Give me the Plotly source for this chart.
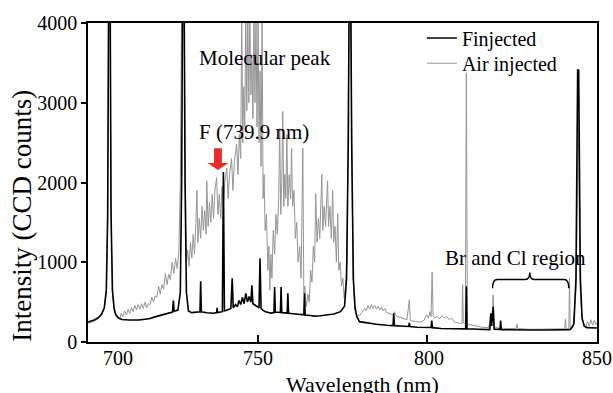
import plotly.graph_objects as go

# ---------------- data ----------------
f_wl = [700.0, 701.0, 702.0, 703.0, 704.0, 704.8, 705.4, 705.8, 706.1, 706.5,
        706.8, 707.2, 707.7, 708.2, 709.0, 710.0, 712.0, 715.0, 718.0, 720.0,
        722.0, 724.0, 724.9, 725.15, 725.4, 726.5, 727.2, 727.6, 727.9, 728.3,
        728.6, 729.0, 729.6, 730.5, 732.0, 733.0, 733.2, 733.4, 735.0, 737.0,
        737.9, 738.05, 738.2, 739.6, 739.9, 740.2, 741.0, 742.1, 742.5, 742.8,
        743.5, 744.0, 744.5, 745.0, 745.5, 746.0, 746.5, 747.0, 747.5, 748.0,
        748.3, 748.6, 749.5, 750.4, 750.7, 751.0, 751.5, 752.5, 754.0, 754.8,
        755.0, 755.2, 756.7, 756.9, 757.1, 758.7, 758.9, 759.1, 760.5, 762.0,
        763.6, 763.8, 764.0, 765.5, 766.7, 768.5, 770.6, 772.5, 774.4, 775.6,
        776.2, 776.7, 777.0, 777.4, 777.7, 778.2, 778.7, 779.2, 780.0, 782.0,
        785.0, 788.0, 789.9, 790.1, 790.3, 792.0, 794.5, 794.7, 794.9, 797.0,
        800.0, 801.1, 801.3, 801.5, 804.0, 807.0, 810.0, 811.3, 811.5, 811.7,
        815.0, 818.4, 818.7, 818.95, 819.4, 819.7, 821.4, 821.6, 821.8, 825.0,
        830.0, 835.0, 840.0, 842.0, 842.7, 843.2, 843.8, 844.3, 844.6, 845.1,
        845.6, 846.2, 847.0, 848.0, 849.0, 850.0]
f_counts = [250, 262, 280, 305, 350, 430, 650, 1600, 4600, 4600,
            1600, 650, 420, 340, 300, 282, 275, 275, 292, 318,
            340, 358, 375, 520, 385, 400, 620, 2000, 4600, 4600,
            2000, 620, 390, 368, 372, 380, 760, 378, 366, 360,
            368, 430, 368, 380, 2130, 390, 400, 420, 800, 430,
            470, 440, 520, 470, 560, 480, 610, 500, 570, 500,
            710, 480, 455, 430, 1050, 420, 400, 375, 362, 370,
            690, 375, 370, 690, 368, 362, 610, 360, 355, 345,
            340, 610, 338, 332, 325, 330, 340, 350, 380, 450,
            800, 2500, 4600, 4600, 2500, 800, 430, 320, 255, 238,
            222, 210, 205, 360, 205, 200, 195, 240, 195, 185,
            180, 182, 270, 180, 170, 165, 160, 165, 700, 165,
            160, 155, 360, 200, 440, 160, 158, 270, 155, 150,
            150, 150, 150, 155, 185, 230, 800, 3410, 3410, 800,
            300, 200, 180, 178, 175, 175]

air_wl = [700.0, 701.5, 703.0, 704.0, 704.8, 705.4, 705.8, 706.15, 706.45, 706.8,
          707.2, 707.7, 708.5, 709.3, 709.8, 710.3, 710.8, 711.3, 711.8, 712.3,
          712.8, 713.3, 713.8, 714.3, 714.8, 715.3, 715.8, 716.3, 716.8, 717.3,
          717.8, 718.3, 718.8, 719.3, 719.8, 720.3, 720.8, 721.3, 721.8, 722.3,
          722.8, 723.3, 723.8, 724.3, 724.8, 725.3, 725.8, 726.3, 726.8, 727.2,
          727.65, 728.25, 728.7, 729.0, 729.4, 729.8, 730.2, 730.6, 731.0, 731.4,
          731.8, 732.1, 732.4, 732.8, 733.2, 733.6, 734.0, 734.4, 734.8, 735.0,
          735.4, 735.8, 736.2, 736.6, 737.0, 737.4, 737.9, 738.3, 738.7, 739.1,
          739.5, 739.9, 740.3, 740.9, 741.3, 741.7, 742.3, 742.7, 743.1, 743.8,
          744.2, 744.6, 745.0, 745.3, 745.6, 745.9, 746.2, 746.5, 746.8, 747.1,
          747.4, 747.7, 748.0, 748.3, 748.6, 748.9, 749.2, 749.5, 749.8, 750.1,
          750.4, 750.7, 751.0, 751.3, 751.6, 751.9, 752.2, 752.6, 753.0, 753.3,
          753.6, 753.9, 754.2, 754.6, 755.0, 755.4, 755.8, 756.2, 756.5, 756.8,
          757.1, 757.4, 757.7, 758.0, 758.3, 758.6, 758.9, 759.3, 759.7, 760.0,
          760.3, 760.7, 761.1, 761.5, 761.9, 762.4, 762.8, 763.3, 763.6, 763.9,
          764.3, 764.8, 765.2, 765.6, 766.0, 766.4, 766.8, 767.1, 767.5, 767.9,
          768.3, 768.9, 769.2, 769.6, 770.0, 770.6, 770.9, 771.3, 771.7, 772.1,
          772.4, 772.8, 773.2, 773.6, 773.9, 774.3, 774.7, 775.1, 775.5, 775.9,
          776.3, 776.7, 777.05, 777.35, 777.7, 778.1, 778.6, 779.2, 780.0, 780.8,
          781.5, 782.0, 782.5, 783.0, 783.5, 784.0, 784.5, 785.0, 785.5, 786.0,
          786.5, 787.0, 787.5, 788.0, 789.0, 790.0, 790.3, 791.0, 792.0, 793.0,
          794.0, 794.7, 795.0, 796.5, 798.0, 799.0, 799.8, 800.3, 800.8, 801.1,
          801.4, 801.7, 802.2, 803.0, 803.6, 804.3, 805.0, 805.7, 806.4, 807.2,
          808.0, 809.0, 809.8, 810.2, 810.4, 810.6, 811.2, 811.5, 811.8, 812.2,
          814.0, 816.0, 818.0, 818.7, 819.0, 819.4, 819.7, 821.0, 823.0, 826.2,
          826.4, 826.6, 830.0, 835.0, 838.0, 840.5, 840.7, 840.9, 841.7, 841.9,
          842.1, 843.0, 843.9, 844.45, 845.0, 845.6, 846.2, 846.7, 847.2, 847.7,
          848.2, 848.7, 849.2, 849.7, 850.0]
air_counts = [235, 255, 290, 340, 420, 620, 1500, 4600, 4600, 1500,
              620, 390, 310, 290, 360, 320, 390, 340, 410, 360,
              430, 380, 460, 400, 470, 410, 480, 420, 500, 430,
              480, 470, 560, 500, 580, 560, 700, 600, 720, 660,
              860, 720, 850, 780, 1000, 860, 1050, 920, 1150, 2000,
              4600, 4600, 2000, 1000, 1150, 950, 1250, 1050, 1350, 1100,
              1500, 1900, 1250, 1550, 1300, 1700, 1400, 1650, 1350, 2020,
              1450, 1750, 1500, 1850, 1550, 1900, 2060, 1600, 1850, 1550,
              1950, 1700, 2000, 2180, 1800, 2100, 2300, 1900, 2250, 2480,
              2100, 2600, 2300, 4100, 2500, 3200, 2700, 4100, 2900, 4100,
              3000, 4100, 3100, 3600, 2800, 4100, 3000, 4100, 2700, 4100,
              2500, 3400, 2200, 4100, 1800, 2100, 1400, 1600, 900, 1200,
              650, 1100, 800, 1400, 1100, 1600, 1350, 1800, 2680, 1600,
              2000, 2890, 1700, 2100, 1800, 2600, 1700, 2100, 1800, 2430,
              1700, 1900, 1300, 1500, 1000, 1200, 800, 2430, 600, 700,
              440, 600, 500, 900, 750, 1200, 1000, 1860, 1250, 1550,
              1300, 2100, 1400, 1700, 1450, 2020, 1450, 1700, 1300, 1900,
              1250, 1450, 1000, 1610, 900, 1000, 700, 800, 550, 700,
              1000, 2500, 4600, 4600, 2500, 800, 420, 340, 330, 380,
              420, 390, 460, 410, 470, 420, 460, 410, 450, 400,
              440, 390, 420, 370, 350, 340, 380, 320, 310, 290,
              280, 530, 270, 255, 250, 270, 340, 300, 380, 320,
              875, 330, 300, 320, 290, 330, 300, 320, 280, 300,
              250, 240, 230, 235, 720, 235, 230, 3370, 230, 220,
              200, 185, 180, 280, 200, 590, 190, 175, 170, 168,
              225, 168, 160, 160, 160, 165, 290, 165, 170, 800,
              180, 220, 700, 2830, 700, 300, 230, 190, 260, 200,
              280, 210, 270, 220, 240]

x_tick_values = [700, 750, 800, 850]
x_tick_label_pos = [708.7, 750.0, 800.5, 850.0]
y_tick_values = [0, 1000, 2000, 3000, 4000]

SERIF = "Liberation Serif, Times New Roman, serif"
LEG_FONT = dict(family=SERIF, size=20, color="black")

fig = go.Figure()
fig.add_trace(go.Scatter(x=air_wl, y=air_counts, mode="lines", name="Air injected",
                         line=dict(color="#959595", width=1.0), legend="legend2"))
fig.add_trace(go.Scatter(x=f_wl, y=f_counts, mode="lines", name="Finjected",
                         line=dict(color="#000000", width=1.6), legend="legend"))

fig.update_xaxes(range=[700, 850], tickvals=[750, 800], ticks="inside", ticklen=7,
                 tickwidth=1.5, tickcolor="black", showticklabels=False,
                 showline=True, linewidth=1.5, linecolor="black", mirror=True,
                 showgrid=False, zeroline=False)
fig.update_yaxes(range=[0, 4000], tickvals=y_tick_values, ticks="outside", ticklen=5,
                 tickwidth=1.5, tickcolor="black",
                 tickfont=dict(family=SERIF, size=20, color="black"),
                 showline=True, linewidth=1.5, linecolor="black", mirror=True,
                 showgrid=False, zeroline=False)

annotations = []
for v, p in zip(x_tick_values, x_tick_label_pos):
    annotations.append(dict(x=p, y=0, xref="x", yref="paper", text=str(v),
                            showarrow=False, xanchor="center", yanchor="middle",
                            yshift=-16, font=dict(family=SERIF, size=20, color="black")))
annotations += [
    dict(x=780.9, y=0, xref="x", yref="paper", text="Wavelength (nm)", showarrow=False,
         xanchor="center", yanchor="middle", yshift=-42,
         font=dict(family=SERIF, size=22, color="black")),
    dict(x=0, y=0.3956, xref="paper", yref="paper", text="Intensity (CCD counts)",
         showarrow=False, textangle=-90, xanchor="center", yanchor="middle", xshift=-66,
         font=dict(family=SERIF, size=27, color="black")),
    dict(x=732.2, y=3563, xref="x", yref="y", text="Molecular peak", showarrow=False,
         xanchor="left", yanchor="middle", font=dict(family=SERIF, size=21, color="black")),
    dict(x=732.2, y=2629, xref="x", yref="y", text="F (739.9 nm)", showarrow=False,
         xanchor="left", yanchor="middle", font=dict(family=SERIF, size=21, color="black")),
    dict(x=804.7, y=1059, xref="x", yref="y", text="Br and Cl region", showarrow=False,
         xanchor="left", yanchor="middle", font=dict(family=SERIF, size=21, color="black")),
]

shapes = [
    # red block arrow pointing at the F line
    dict(type="path", xref="x", yref="y",
         path="M 737.15 2430 L 739.45 2430 L 739.45 2243 L 741.4 2243 L 738.3 2156 "
              "L 735.2 2243 L 737.15 2243 Z",
         fillcolor="#ee2a24", line=dict(color="#ee2a24", width=0)),
    # curly brace over the Br / Cl region
    dict(type="path", xref="x", yref="y",
         path="M 819.2 673 Q 819.2 785 820.6 785 L 828.9 785 Q 830.2 785 830.2 872 "
              "Q 830.2 785 831.5 785 L 840.3 785 Q 841.7 785 841.7 673",
         line=dict(color="black", width=1.5)),
]

fig.update_layout(
    width=613, height=393,
    margin=dict(l=88, r=16, t=21, b=51),
    paper_bgcolor="white", plot_bgcolor="white",
    showlegend=True,
    legend=dict(x=0.656, y=0.953, xanchor="left", yanchor="middle",
                bgcolor="rgba(0,0,0,0)", font=LEG_FONT, itemwidth=30),
    legend2=dict(x=0.656, y=0.874, xanchor="left", yanchor="middle",
                 bgcolor="rgba(0,0,0,0)", font=LEG_FONT, itemwidth=30),
    annotations=annotations,
    shapes=shapes,
)

fig.write_html("out.html", config={"displayModeBar": False},
               post_script="document.body.style.margin='0px';document.body.style.overflow='hidden';")
